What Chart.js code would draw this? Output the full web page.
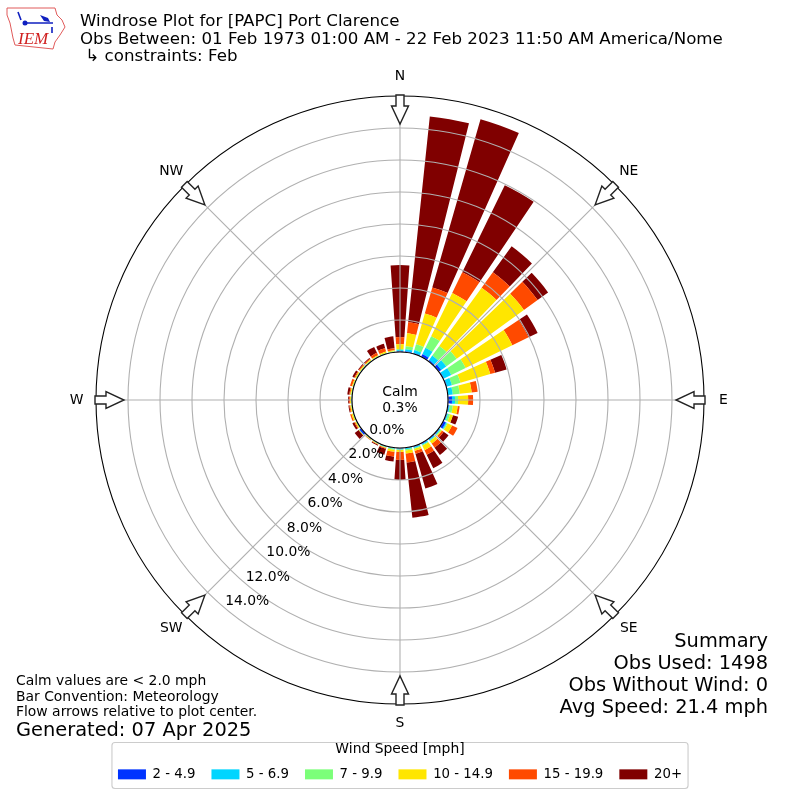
<!DOCTYPE html>
<html>
<head>
<meta charset="utf-8">
<title>Windrose</title>
<script src="https://cdn.jsdelivr.net/npm/chart.js@4/dist/chart.umd.js"></script>
<style>
  html, body { margin: 0; padding: 0; background: #fff; }
  body { width: 800px; height: 800px; position: relative; overflow: hidden; font-family: "DejaVu Sans", sans-serif; color: #000; }
  canvas { position: absolute; left: 0; top: 0; }
  .txt { position: absolute; white-space: pre; }
  #title { left: 80px; top: 12px; font-size: 16.67px; line-height: 17.6px; }
  #notes { left: 16px; top: 673px; font-size: 13.9px; line-height: 15.6px; }
  #generated { left: 16px; top: 718px; font-size: 19.4px; line-height: 24px; }
  #summary { right: 32px; top: 629.5px; font-size: 19.4px; line-height: 22px; text-align: right; }
  #logo { position: absolute; left: 0; top: 0; }
</style>
</head>
<body>
<canvas id="myChart" width="800" height="800"></canvas>
<svg id="logo" width="80" height="60" viewBox="0 0 80 60">
  <path d="M7 8 L55 8 L57 15 L62 20 L65 27 L60 35 L55 42 L53 49 L15 45 L13 38 L10 23 L7 15 Z" fill="#fff" stroke="#e05a5a" stroke-width="1"/>
  <path d="M23 23 H53 M18 12 L21 20 M52 27 V33" stroke="#1020c0" stroke-width="1.6" fill="none"/>
  <path d="M40 15 L48 18 L50 22 L44 21 Z" fill="#1020c0"/>
  <circle cx="25" cy="23" r="2.5" fill="#1020c0"/>
  <text x="18" y="44" font-family="Liberation Serif" font-style="italic" font-size="17" fill="#d02020">IEM</text>
</svg>
<div class="txt" id="title">Windrose Plot for [PAPC] Port Clarence
Obs Between: 01 Feb 1973 01:00 AM - 22 Feb 2023 11:50 AM America/Nome
 ↳ constraints: Feb</div>
<div class="txt" id="notes">Calm values are &lt; 2.0 mph
Bar Convention: Meteorology
Flow arrows relative to plot center.</div>
<div class="txt" id="generated">Generated: 07 Apr 2025</div>
<div class="txt" id="summary">Summary
Obs Used: 1498
Obs Without Wind: 0
Avg Speed: 21.4 mph</div>
<script>
// percent of obs per direction bin, 0, 10, 20 ... 350 degrees
var directions = [0,10,20,30,40,50,60,70,80,90,100,110,120,130,140,150,160,170,180,190,200,210,220,230,240,250,260,270,280,290,300,310,320,330,340,350]
var speed2to5 = [.06,.06,.06,.19,.09,.19,.06,.06,.03,.25,.06,.06,.19,.06,.06,.06,.06,.03,.03,.03,.03,0,0,.13,0,0,0,0,0,0,0,0,0,0,0,0]
var speed5to7 = [.06,.13,.19,.44,.34,.38,.5,.31,.28,.19,.06,.06,.06,.06,.06,.06,.06,.06,.06,.03,.03,.03,.03,0,.03,.03,0,.03,.03,0,0,.03,.03,.03,.03,.03]
var speed7to10 = [.06,.19,.38,.81,.75,.81,1.0,.56,.44,.19,.19,.13,.06,.06,.06,.06,.06,.09,.03,.06,.03,.03,.03,.03,.03,.03,.06,.03,.03,.06,.06,.03,.03,.03,.03,.03]
var speed10to15 = [.31,.81,2.0,3.0,4.5,5.19,3.25,1.94,.75,.63,.31,.19,.31,.06,.19,.31,.13,.19,.13,.13,.03,.03,.03,.03,.06,.09,.06,.06,.06,.06,.06,.06,.06,.06,.09,.06]
var speed15to20 = [.44,.69,1.69,1.44,1.19,1.06,1.13,.31,.38,.31,.13,0,.38,.13,.31,.31,.19,.56,.5,.31,.06,.03,.03,0,.06,.09,.06,.06,.06,.13,.06,.06,.06,.16,.22,.13]
var speed20up = [4.5,12.94,10.94,6.06,2.0,.81,.63,.75,0,0,0,.34,0,.38,.56,.94,2.25,3.47,1.25,.31,.38,.06,0,.31,.13,0,.06,.06,.13,0,.13,.06,.06,.41,.28,.75]

var speedLabels = ['2 - 4.9','5 - 6.9','7 - 9.9','10 - 14.9','15 - 19.9','20+']
var speedColors = ['#0033ff','#00d5ff','#7cff79','#ffe600','#ff4a00','#800000']
var speedSeries = [speed2to5,speed5to7,speed7to10,speed10to15,speed15to20,speed20up]

var tickValues = [0,2,4,6,8,10,12,14,16]
var compassLabels = ['N','NE','E','SE','S','SW','W','NW']
var calmText = ['Calm','0.3%']

var barAngle = 8
var gapAngle = 2
var rMin = -3

// each direction is a bar slot and then a gap slot, so the polar arcs do not touch
var slots = []
directions.forEach(function (d) { slots.push(d + ''); slots.push('') })

var running = directions.map(function () { return 0 })
var bases = []
var datasets = speedSeries.map(function (series, s) {
  var data = []
  bases[s] = running.slice()
  series.forEach(function (v, i) {
    running[i] += v
    data.push(running[i])
    data.push(rMin)
  })
  return {
    label: speedLabels[s],
    data: data,
    backgroundColor: speedColors[s],
    borderWidth: 0,
    angle: function (c) { return c.dataIndex % 2 ? gapAngle : barAngle }
  }
})

function rad(deg) { return deg * Math.PI / 180 - Math.PI / 2 }

var rosePlugin = {
  id: 'rose',
  // make the arcs real stacked segments
  afterDatasetsUpdate: function (chart) {
    var r = chart.scales.r
    chart.data.datasets.forEach(function (ds, s) {
      chart.getDatasetMeta(s).data.forEach(function (arc, i) {
        if (i % 2 == 0) arc.innerRadius = r.getDistanceFromCenterForValue(bases[s][i / 2])
      })
    })
  },
  beforeDraw: function (chart) {
    var ctx = chart.ctx
    var boxes = chart.legend.legendHitBoxes
    var left = boxes[0].left - 6
    var right = boxes[boxes.length - 1].left + boxes[boxes.length - 1].width + 6
    ctx.save()
    ctx.fillStyle = '#fff'
    ctx.fillRect(0, 0, 800, 800)
    ctx.strokeStyle = '#cccccc'
    ctx.lineWidth = 1.1
    ctx.beginPath()
    ctx.roundRect(left, 742.5, right - left, 46, 3)
    ctx.stroke()
    ctx.restore()
  },
  afterDraw: function (chart) {
    var ctx = chart.ctx
    var r = chart.scales.r
    var cx = r.xCenter
    var cy = r.yCenter
    var outer = r.drawingArea
    var inner = r.getDistanceFromCenterForValue(0)
    ctx.save()

    // spokes sit over the bars like the rings do
    ctx.strokeStyle = '#b0b0b0'
    ctx.lineWidth = 1.1
    compassLabels.forEach(function (lab, k) {
      var a = rad(k * 45)
      ctx.beginPath()
      ctx.moveTo(cx, cy)
      ctx.lineTo(cx + outer * Math.cos(a), cy + outer * Math.sin(a))
      ctx.stroke()
    })

    // centre hole
    ctx.beginPath()
    ctx.arc(cx, cy, inner, 0, Math.PI * 2)
    ctx.fillStyle = '#fff'
    ctx.fill()
    ctx.strokeStyle = '#000'
    ctx.lineWidth = 1.1
    ctx.stroke()

    // arrows and compass names
    ctx.font = '13.9px "DejaVu Sans"'
    ctx.textAlign = 'center'
    ctx.textBaseline = 'middle'
    compassLabels.forEach(function (lab, k) {
      var a = rad(k * 45)
      ctx.save()
      ctx.translate(cx, cy)
      ctx.rotate(a)
      ctx.beginPath()
      ctx.moveTo(outer + 1, -4)
      ctx.lineTo(outer - 10, -4)
      ctx.lineTo(outer - 10, -8.5)
      ctx.lineTo(outer - 28, 0)
      ctx.lineTo(outer - 10, 8.5)
      ctx.lineTo(outer - 10, 4)
      ctx.lineTo(outer + 1, 4)
      ctx.closePath()
      ctx.fillStyle = '#fff'
      ctx.fill()
      ctx.strokeStyle = '#222'
      ctx.lineWidth = 1.4
      ctx.stroke()
      ctx.restore()
      ctx.fillStyle = '#000'
      ctx.fillText(lab, cx + (outer + 19.5) * Math.cos(a), cy + (outer + 19.5) * Math.sin(a))
    })

    // percent labels, running down towards SW
    ctx.textAlign = 'left'
    ctx.textBaseline = 'alphabetic'
    var tickAngle = rad(220)
    tickValues.slice(0, -1).forEach(function (v) {
      var d = r.getDistanceFromCenterForValue(v)
      ctx.fillText(v.toFixed(1) + '%', cx + d * Math.cos(tickAngle), cy + d * Math.sin(tickAngle) - 3)
    })

    ctx.textAlign = 'center'
    ctx.fillText(calmText[0], cx, cy - 4)
    ctx.fillText(calmText[1], cx, cy + 12)

    // legend title
    ctx.fillText('Wind Speed [mph]', cx, 753)
    ctx.restore()
  }
}

var ctx = document.getElementById('myChart')
var myChart = new Chart(ctx, {
  type: 'polarArea',
  data: { labels: slots, datasets: datasets },
  plugins: [rosePlugin],
  options: {
    responsive: false,
    animation: false,
    layout: { padding: { left: 0, right: 0, top: 96, bottom: 9 } },
    scales: {
      r: {
        min: rMin,
        max: 16,
        startAngle: -barAngle / 2,
        afterBuildTicks: function (scale) {
          scale.ticks = tickValues.map(function (v) { return { value: v } })
        },
        ticks: { display: false },
        grid: {
          z: 1,
          lineWidth: 1.1,
          color: function (c) { return c.tick && c.tick.value == 16 ? '#000000' : '#b0b0b0' }
        }
      }
    },
    plugins: {
      tooltip: { enabled: false },
      legend: {
        position: 'bottom',
        align: 'center',
        title: { display: true, text: ' ', padding: { top: 30, bottom: 0 }, font: { size: 13.9 } },
        labels: {
          boxWidth: 28,
          boxHeight: 10,
          padding: 16,
          font: { family: '"DejaVu Sans"', size: 13.3 },
          generateLabels: function (chart) {
            return chart.data.datasets.map(function (ds, i) {
              return { text: ds.label, fillStyle: ds.backgroundColor, strokeStyle: ds.backgroundColor, fontColor: '#000', lineWidth: 0, datasetIndex: i, hidden: false }
            })
          }
        }
      }
    }
  }
})
</script>
</body>
</html>
